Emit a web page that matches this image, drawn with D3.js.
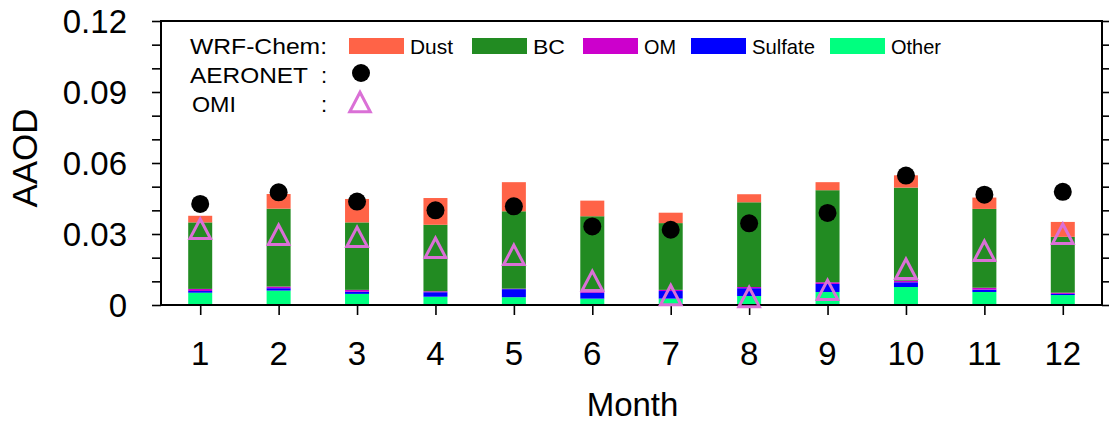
<!DOCTYPE html>
<html><head><meta charset="utf-8">
<script src="https://cdn.jsdelivr.net/npm/d3@7"></script>
<style>body{margin:0;background:#fff}svg{display:block}text{font-family:"Liberation Sans",Arial,sans-serif}</style>
</head><body>
<script>
const months = [1,2,3,4,5,6,7,8,9,10,11,12];
const other   = [0.0052,0.0061,0.0047,0.0035,0.0033,0.0027,0.0027,0.0038,0.0055,0.0076,0.0055,0.0042];
const sulfate = [0.0007,0.0010,0.0009,0.0019,0.0034,0.0025,0.0032,0.0033,0.0034,0.0020,0.0010,0.0005];
const om      = [0.0009,0.0007,0.0008,0.0004,0.0002,0.0004,0.0005,0.0005,0.0007,0.0007,0.0008,0.0005];
const bc      = [0.0281,0.0329,0.0285,0.0281,0.0327,0.0319,0.0282,0.0358,0.0389,0.0393,0.0333,0.0236];
const dust    = [0.0028,0.0062,0.0099,0.0113,0.0123,0.0066,0.0044,0.0034,0.0034,0.0052,0.0048,0.0063];
const aeronet = [0.0427,0.0476,0.0437,0.0400,0.0417,0.0332,0.0318,0.0345,0.0389,0.0547,0.0466,0.0478];
const omi     = [0.0322,0.0297,0.0288,0.0242,0.0212,0.0102,0.0042,0.0034,0.0064,0.0153,0.0229,0.0301];
const yTicks = [0,0.03,0.06,0.09,0.12];
const yTickLabels = ["0","0.03","0.06","0.09","0.12"];
const yMinor = [0.01,0.02,0.04,0.05,0.07,0.08,0.10,0.11];
const seriesNames = ["Other","Sulfate","OM","BC","Dust"];
const seriesColors = {Dust:"#FF6347",BC:"#228B22",OM:"#CC00CC",Sulfate:"#0000FF",Other:"#00FF7F"};
const legendOrder = ["Dust","BC","OM","Sulfate","Other"];

const W=1109,H=423;
const L=161,R=1102,T=21,B=305;
const svg=d3.select("body").append("svg").attr("width",W).attr("height",H);
const x=d3.scaleLinear().domain([0.5,12.5]).range([L,R]);
const y=d3.scaleLinear().domain([0,0.12]).range([B,T]);

const rows = months.map((m,i)=>({month:m,Other:other[i],Sulfate:sulfate[i],OM:om[i],BC:bc[i],Dust:dust[i]}));
const stack=d3.stack().keys(seriesNames)(rows);
const bw=24;
svg.append("g").selectAll("g").data(stack).join("g")
  .attr("fill",d=>seriesColors[d.key])
  .selectAll("rect").data(d=>d).join("rect")
  .attr("x",d=>x(d.data.month)-bw/2).attr("width",bw)
  .attr("y",d=>y(d[1])).attr("height",d=>Math.max(0,y(d[0])-y(d[1])));

// axes
const tickAll=yTicks.concat(yMinor);
const gl=svg.append("g").attr("transform",`translate(${L},0)`)
  .call(d3.axisLeft(y).tickValues(tickAll).tickSize(9).tickFormat(""));
const gr=svg.append("g").attr("transform",`translate(${R},0)`)
  .call(d3.axisRight(y).tickValues(tickAll).tickSize(7).tickFormat(""));
const gb=svg.append("g").attr("transform",`translate(0,${B})`)
  .call(d3.axisBottom(x).tickValues(months).tickSize(10).tickFormat(""));
[gl,gr,gb].forEach(g=>{g.select(".domain").remove();g.selectAll("line").attr("stroke","#000").attr("stroke-width",1.6);});
svg.append("rect").attr("x",L).attr("y",T).attr("width",R-L).attr("height",B-T)
  .attr("fill","none").attr("stroke","#000").attr("stroke-width",2);

// tick labels
svg.append("g").selectAll("text").data(yTicks).join("text")
  .attr("x",127).attr("y",d=>y(d)).attr("dy","0.36em").attr("text-anchor","end")
  .attr("font-size",33).text((d,i)=>yTickLabels[i]);
svg.append("g").selectAll("text").data(months).join("text")
  .attr("x",d=>x(d)).attr("y",365).attr("text-anchor","middle")
  .attr("font-size",33).text(d=>d);
svg.append("text").attr("x",632.5).attr("y",415.5).attr("text-anchor","middle").attr("font-size",33).text("Month");
svg.append("text").attr("transform",`translate(37,158) rotate(-90)`).attr("text-anchor","middle").attr("font-size",35).text("AAOD");

// markers
const triPath=(cx,cy,s)=>{const h=s*0.95;return `M${cx},${cy-h/2}L${cx+s/2},${cy+h/2}L${cx-s/2},${cy+h/2}Z`;};
svg.append("g").selectAll("circle").data(months).join("circle")
  .attr("cx",d=>x(d)).attr("cy",(d,i)=>y(aeronet[i])).attr("r",9).attr("fill","#000");
svg.append("g").selectAll("path").data(months).join("path")
  .attr("d",(d,i)=>triPath(x(d),y(omi[i]),20.5)).attr("fill","none").attr("stroke","#DA70D6").attr("stroke-width",3).attr("stroke-linejoin","miter");

// legend
const lg=svg.append("g");
const lt=(xx,yy,s,fs,len)=>lg.append("text").attr("x",xx).attr("y",yy).attr("font-size",fs)
  .attr("textLength",len).attr("lengthAdjust","spacingAndGlyphs").text(s);
lt(190,54,"WRF-Chem:",22,137);
const boxX={Dust:349,BC:472,OM:583,Sulfate:691,Other:830};
const labLen={Dust:43,BC:32,OM:32,Sulfate:63,Other:50};
legendOrder.forEach(k=>{
  lg.append("rect").attr("x",boxX[k]).attr("y",38).attr("width",55).attr("height",16).attr("fill",seriesColors[k]);
  lt(boxX[k]+61,54,k,21,labLen[k]);
});
lt(190,83,"AERONET",22,118);
lg.append("text").attr("x",321).attr("y",83).attr("font-size",22).text(":");
lg.append("circle").attr("cx",361).attr("cy",73).attr("r",9).attr("fill","#000");
lt(192,112,"OMI",22,44);
lg.append("text").attr("x",321).attr("y",112).attr("font-size",22).text(":");
lg.append("path").attr("d",triPath(360,102,20.5)).attr("fill","none").attr("stroke","#DA70D6").attr("stroke-width",3);
</script>
</body></html>
